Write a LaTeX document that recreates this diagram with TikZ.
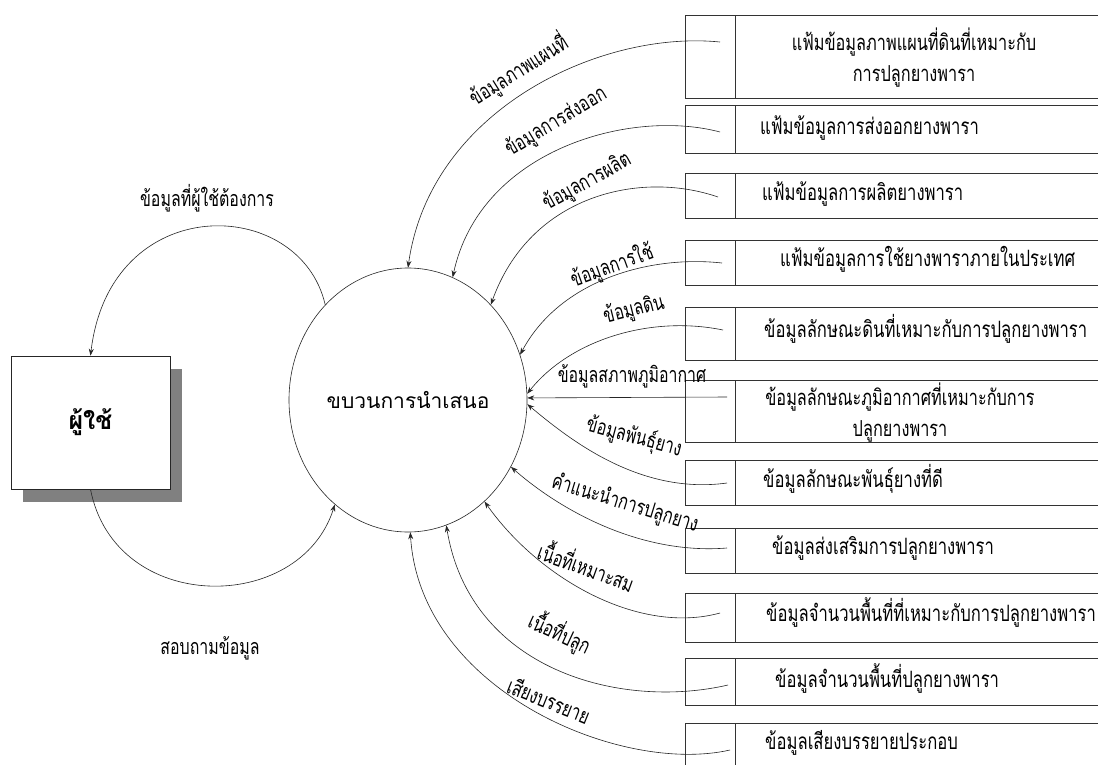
\documentclass[tikz,border=0pt]{standalone}
\usepackage{fontspec}
\newfontfamily\thaiN[Script=Thai,FakeStretch=0.74]{Loma}
\newfontfamily\thaiW[Script=Thai]{Loma}
\usetikzlibrary{shapes.geometric,arrows.meta}
\tikzset{
  flow/.style={draw=black!85, line width=0.6pt, -{Stealth[length=7pt,width=5pt]}},
  storebox/.style={draw=none, minimum width=450pt, anchor=north west, inner sep=0pt, outer sep=0pt},
  storeline/.style={draw=black!80, line width=0.6pt},
  lbl/.style={font=\thaiN\fontsize{21.5}{25}\selectfont, inner sep=0pt},
  stxt/.style={font=\thaiN\fontsize{22.5}{31}\selectfont, inner sep=0pt, text height=13pt, text depth=4pt},
  stxtc/.style={font=\thaiN\fontsize{22}{31}\selectfont, inner sep=0pt, align=center},
}
\newcommand\mystore[3]{%
  \node[storebox, minimum height={#3-#2}] (#1) at (685,#2) {};
  \draw[storeline] (#1.north east) -- (#1.north west) -- (#1.south west) -- (#1.south east);
  \draw[storeline] ([xshift=50pt]#1.north west) -- ([xshift=50pt]#1.south west);
}
\begin{document}
\begin{tikzpicture}[x=1pt,y=-1pt]
\useasboundingbox (0,0) rectangle (1098,764);
\clip (0,0) rectangle (1098,764);
\fill[white] (0,0) rectangle (1098,764);

% process
\node[ellipse, draw=black!85, line width=0.6pt, minimum width=238pt, minimum height=264pt, inner sep=0pt,
      font=\thaiW\fontsize{21}{24}\selectfont] (p) at (408,400) {ขบวนการนำเสนอ};

% user with shadow
\fill[black!50] (23,369) rectangle (182,502);
\node[draw=black!85, fill=white, line width=0.6pt, minimum width=159pt, minimum height=133pt, inner sep=0pt,
      font=\thaiW\bfseries\fontsize{25}{28}\selectfont] (u) at (90.5,422.5) {ผู้ใช้};

% stores
\mystore{s1}{15}{98}
\mystore{s2}{105}{153}
\mystore{s3}{173}{218}
\mystore{s4}{240}{285}
\mystore{s5}{307}{360}
\mystore{s6}{380}{442}
\mystore{s7}{460}{505}
\mystore{s8}{528}{573}
\mystore{s9}{593}{642}
\mystore{s10}{658}{705}
\mystore{s11}{723}{775}

\node[stxtc] (t1) at (914,58) {แฟ้มข้อมูลภาพแผนที่ดินที่เหมาะกับ\\การปลูกยางพารา};
\node[stxt, anchor=west] (t2) at (760,130) {แฟ้มข้อมูลการส่งออกยางพารา};
\node[stxt, anchor=west] (t3) at (762,196) {แฟ้มข้อมูลการผลิตยางพารา};
\node[stxt, anchor=west] (t4) at (780,262) {แฟ้มข้อมูลการใช้ยางพาราภายในประเทศ};
\node[stxt, anchor=west] (t5) at (764,333) {ข้อมูลลักษณะดินที่เหมาะกับการปลูกยางพารา};
\node[stxtc] (t6) at (900,413) {ข้อมูลลักษณะภูมิอากาศที่เหมาะกับการ\\ปลูกยางพารา};
\node[stxt, anchor=west] (t7) at (763,483) {ข้อมูลลักษณะพันธุ์ยางที่ดี};
\node[stxt, anchor=west] (t8) at (772,550) {ข้อมูลส่งเสริมการปลูกยางพารา};
\node[stxt, anchor=west] (t9) at (766,617) {ข้อมูลจำนวนพื้นที่ที่เหมาะกับการปลูกยางพารา};
\node[stxt, anchor=west] (t10) at (775,683) {ข้อมูลจำนวนพื้นที่ปลูกยางพารา};
\node[stxt, anchor=west] (t11) at (765,745) {ข้อมูลเสียงบรรยายประกอบ};

% connector start points inside the stores
\coordinate (c1) at (720,42);
\coordinate (c2) at (720,132);
\coordinate (c3) at (718,197);
\coordinate (c4) at (722,263);
\coordinate (c5) at (723,330);
\coordinate (c6) at (727,397);
\coordinate (c7) at (727,483);
\coordinate (c8) at (727,548);
\coordinate (c9) at (720,613);
\coordinate (c10) at (728,685);
\coordinate (c11) at (730,750);

\draw[flow] (c1) .. controls (600,30) and (430,110) .. (p.90);
\draw[flow] (c2) .. controls (630,108) and (480,150) .. (p.70.5);
\draw[flow] (c3) .. controls (640,170) and (530,195) .. (p.49);
\draw[flow] (c4) .. controls (650,255) and (560,280) .. (p.22);
\draw[flow] (c5) .. controls (650,315) and (570,340) .. (p.3.3);
\draw[flow] (c6) -- (p.1.4);
\draw[flow] (c7) .. controls (640,495) and (570,440) .. (p.-2.3);
\draw[flow] (c8) .. controls (640,555) and (560,510) .. (p.-33.4);
\draw[flow] (c9) .. controls (640,635) and (540,580) .. (p.-53.8);
\draw[flow] (c10) .. controls (620,710) and (470,670) .. (p.-73);
\draw[flow] (c11) .. controls (620,775) and (420,690) .. (p.-89);

\draw[flow] (p.131) .. controls (300,195) and (110,190) .. (u.north);
\draw[flow] (u.south) .. controls (115,615) and (300,615) .. (p.235);

% labels
\node[lbl, rotate=32] (l1) at (518,70) {ข้อมูลภาพแผนที่};
\node[lbl, rotate=31] (l2) at (556,122) {ข้อมูลการส่งออก};
\node[lbl, rotate=29] (l3) at (587,182) {ข้อมูลการผลิต};
\node[lbl, rotate=20] (l4) at (612,266) {ข้อมูลการใช้};
\node[lbl, rotate=14] (l5) at (634,310) {ข้อมูลดิน};
\node[lbl] (l6) at (632,376) {ข้อมูลสภาพภูมิอากาศ};
\node[lbl, rotate=-15] (l7) at (634,437) {ข้อมูลพันธุ์ยาง};
\node[lbl, rotate=-17] (l8) at (625,504) {คำแนะนำการปลูกยาง};
\node[lbl, rotate=-20] (l9) at (587,565) {เนื้อที่เหมาะสม};
\node[lbl, rotate=-25] (l10) at (560,633) {เนื้อที่ปลูก};
\node[lbl, rotate=-22] (l11) at (549,700) {เสียงบรรยาย};
\node[lbl] (lu1) at (207,198) {ข้อมูลที่ผู้ใช้ต้องการ};
\node[lbl] (lu2) at (210,648) {สอบถามข้อมูล};
\end{tikzpicture}
\end{document}
